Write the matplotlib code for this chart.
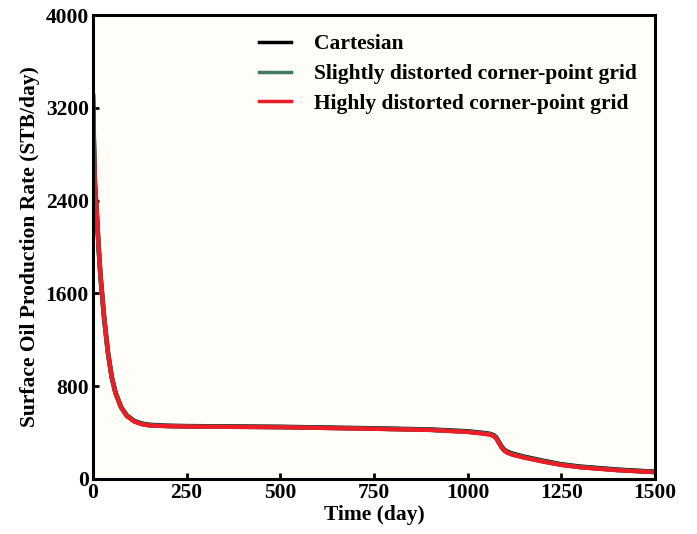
import numpy as np
import matplotlib
matplotlib.use("Agg")
import matplotlib.pyplot as plt

# values (time in days, rate in STB/day)
t = [0, 2, 5, 10, 15, 20, 30, 40, 50, 60, 75, 90, 110, 130, 150, 200, 250,
     500, 750, 900, 1000, 1040, 1060, 1070, 1077, 1083, 1090, 1097, 1105,
     1120, 1150, 1200, 1250, 1300, 1400, 1500]
q_cart = [3300, 2950, 2550, 2300, 2000, 1750, 1380, 1090, 880, 745, 620, 548,
          500, 477, 466, 458, 455, 449, 436, 426, 410, 397, 388, 376, 355, 320,
          282, 254, 236, 217, 192, 157, 126, 106, 80, 62]
q_slight = [3300, 2950, 2550, 2300, 2000, 1750, 1380, 1087, 877, 742, 617, 545,
            497, 474, 463, 456, 453, 447, 434, 424, 407, 394, 385, 372, 350, 315,
            277, 249, 231, 212, 188, 153, 123, 103, 77, 60]
q_high = [3300, 2950, 2550, 2300, 2000, 1750, 1380, 1085, 875, 740, 615, 543,
          495, 472, 461, 455, 452, 446, 432, 422, 405, 391, 381, 368, 346, 311,
          273, 245, 227, 208, 184, 150, 120, 100, 75, 58]

plt.rcParams['font.family'] = ['Liberation Serif', 'DejaVu Serif']
plt.rcParams['font.weight'] = 'bold'

fig = plt.figure(figsize=(6.97, 5.34), dpi=100)
ax = fig.add_axes([0.1334, 0.103, 0.8063, 0.8689])
ax.set_facecolor('#FFFDF8')

ax.plot(t, q_cart, color='black', lw=3.4, label='Cartesian')
ax.plot(t, q_slight, color='#3F7B5C', lw=3.2, label='Slightly distorted corner-point grid')
ax.plot(t, q_high, color='#EE1C25', lw=3.0, label='Highly distorted corner-point grid')

ax.set_xlim(0, 1500)
ax.set_ylim(0, 4000)
ax.set_xticks([0, 250, 500, 750, 1000, 1250, 1500])
ax.set_yticks([0, 800, 1600, 2400, 3200, 4000])
ax.tick_params(direction='in', length=4, width=2, labelsize=15.5, pad=3)
for lab in ax.get_xticklabels() + ax.get_yticklabels():
    lab.set_fontweight('bold')
for s in ax.spines.values():
    s.set_linewidth(2.2)

ax.set_xlabel('Time (day)', fontsize=15.5, fontweight='bold', labelpad=1)
ax.set_ylabel('Surface Oil Production Rate (STB/day)', fontsize=15.5, fontweight='bold', labelpad=4)

leg = ax.legend(loc='upper right', bbox_to_anchor=(1.002, 1.0), frameon=False,
                fontsize=15.5, handlelength=1.5, handletextpad=1.05, labelspacing=0.45)
for h in leg.get_lines():
    h.set_linewidth(2.5)

fig.savefig('out.png', dpi=100)
